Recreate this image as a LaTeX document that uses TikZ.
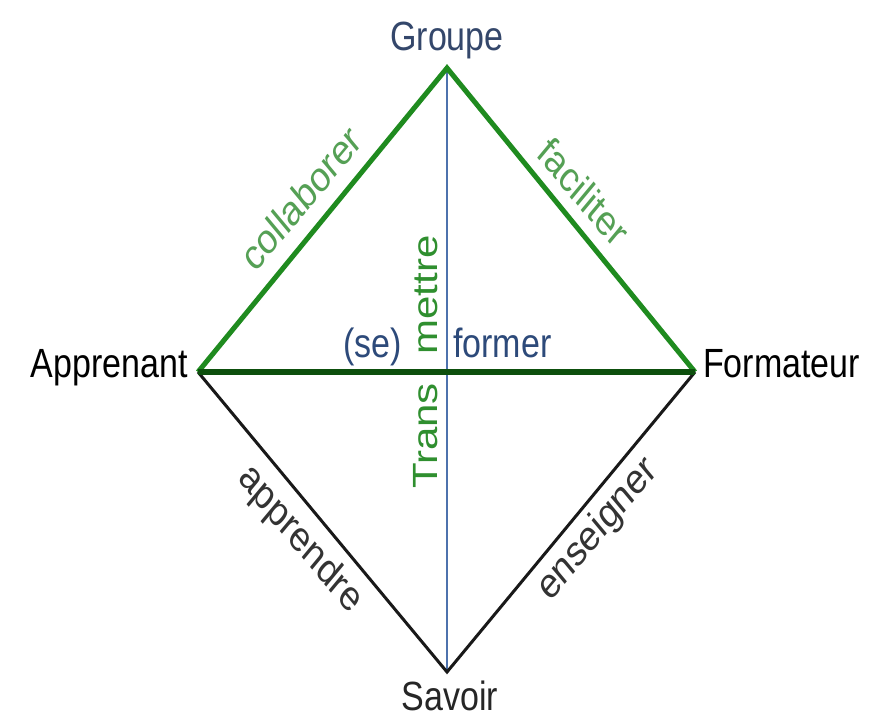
\documentclass[tikz,border=0pt]{standalone}
\usepackage{fontspec}
\setmainfont{Liberation Sans}
\definecolor{edgegreen}{HTML}{1F8B1F}
\definecolor{hgreen}{HTML}{0D4F0D}
\definecolor{vblue}{HTML}{4D72AD}
\definecolor{textblue}{HTML}{2D4A7A}
\definecolor{groupeblue}{HTML}{34476B}
\definecolor{lblgreen}{HTML}{55A055}
\definecolor{tmgreen}{HTML}{2F8F2F}
\definecolor{lblgray}{HTML}{333333}
\begin{document}
\begin{tikzpicture}[x=1pt,y=-1pt,
  txt/.style={inner sep=0pt, font=\fontsize{34}{40}\selectfont, yscale=1.2},
  etxt/.style={inner sep=0pt, font=\fontsize{35}{41}\selectfont, yscale=1.2},
  upedge/.style={draw=edgegreen, line width=5pt, line join=miter},
  hedge/.style={draw=hgreen, line width=5.5pt},
  lowedge/.style={draw=black!90, line width=3pt, line join=miter},
  vedge/.style={draw=vblue, line width=2.4pt}]
\useasboundingbox (0,0) rectangle (882,717);
\fill[white] (0,0) rectangle (882,717);
\coordinate (G) at (447,68);
\coordinate (A) at (198,372);
\coordinate (F) at (695,372);
\coordinate (S) at (447,672);
% connectors
\draw[vedge] (G) -- (S);
\draw[lowedge] (A) -- (S) -- (F);
\draw[upedge] (A) -- (G) -- (F);
\draw[hedge] (A) -- (F);
% vertex labels
\node[txt, text=groupeblue, anchor=base] (lG) at (447,50) {Groupe};
\node[txt, text=black, anchor=base east] (lA) at (188,377) {Apprenant};
\node[txt, text=black, anchor=base west] (lF) at (703,377) {Formateur};
\node[txt, text=black!85, anchor=base] (lS) at (450,710) {Savoir};
% edge labels
\node[etxt, text=lblgreen, rotate=45] (lcol) at (301,198) {collaborer};
\node[etxt, text=lblgreen, rotate=-45] (lfac) at (584,192) {faciliter};
\node[etxt, text=lblgray, rotate=-45] (lapp) at (300,540) {apprendre};
\node[etxt, text=lblgray, rotate=45] (lens) at (598,530) {enseigner};
% centre labels
\node[etxt, text=tmgreen, rotate=90, anchor=base] (lTrans) at (437,436) {Trans};
\node[etxt, text=tmgreen, rotate=90, anchor=base] (lmettre) at (437,295) {mettre};
\node[txt, text=textblue, anchor=base east] (lse) at (402,357) {(se)};
\node[txt, text=textblue, anchor=base west] (lformer) at (453,357) {former};
\end{tikzpicture}
\end{document}
